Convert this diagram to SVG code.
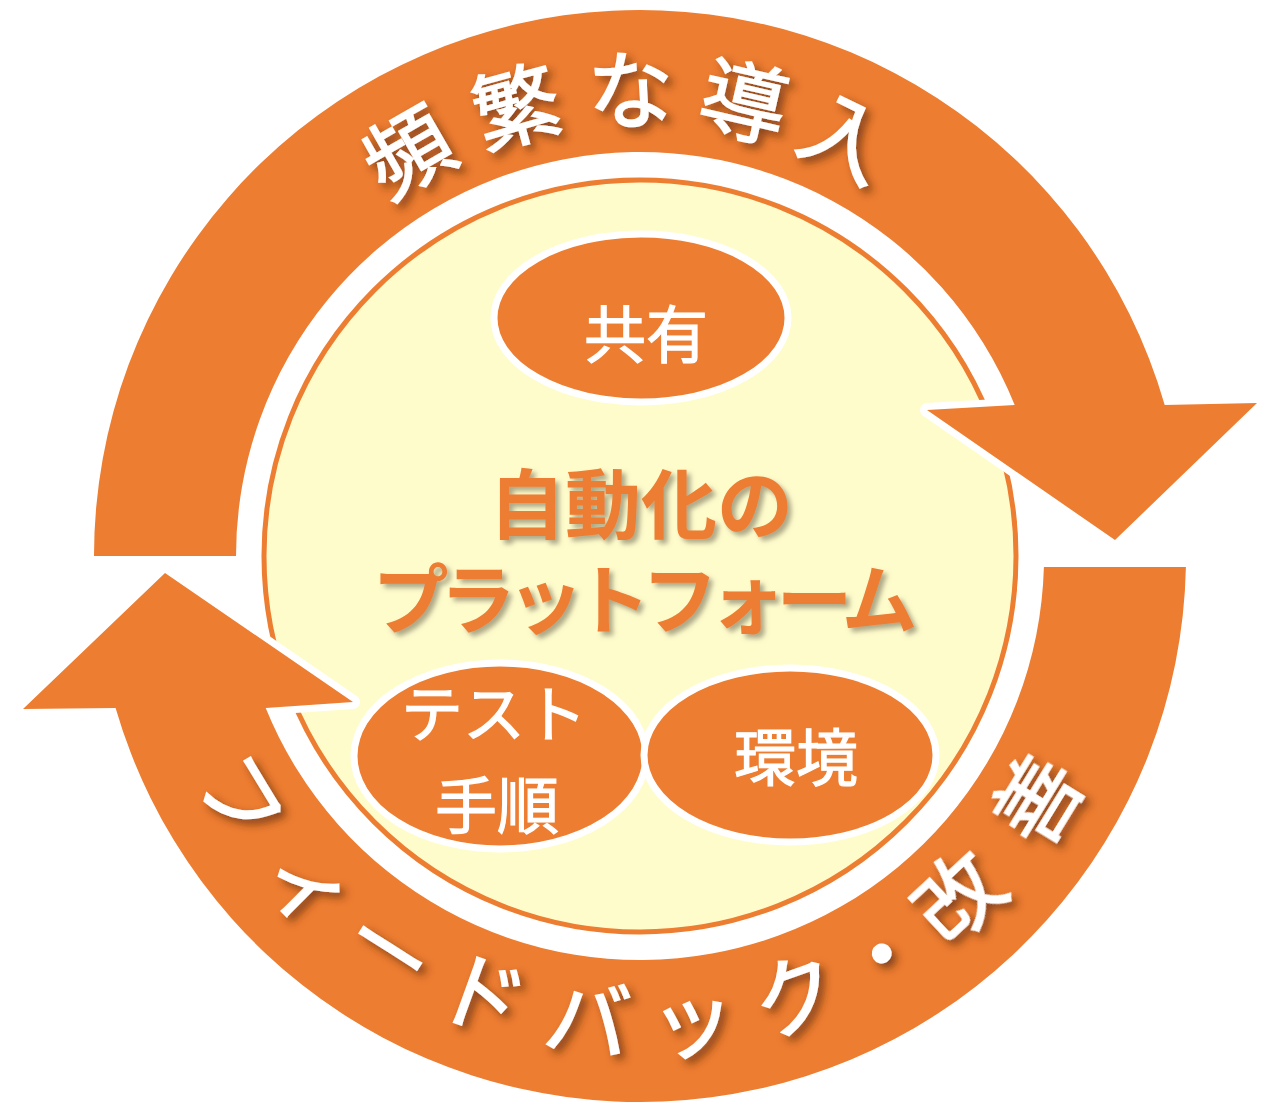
<svg xmlns="http://www.w3.org/2000/svg" width="1280" height="1114" viewBox="0 0 1280 1114">
<defs>
<filter id="ringShadow" x="-40%" y="-40%" width="180%" height="180%">
<feDropShadow dx="5" dy="5" stdDeviation="4" flood-color="#5a2a08" flood-opacity="0.7"/>
</filter>
<filter id="titleShadow" x="-20%" y="-30%" width="140%" height="160%">
<feDropShadow dx="4" dy="4" stdDeviation="2.5" flood-color="#6b6550" flood-opacity="0.55"/>
</filter>
</defs>
<style>
.arrow{fill:#ED7D31;stroke:#fff;stroke-width:14;paint-order:stroke;stroke-linejoin:round}
.node{fill:#ED7D31;stroke:#fff;stroke-width:7}
.ring{font-family:"Noto Sans CJK JP",sans-serif;font-size:86px;fill:#fff;stroke:#fff;stroke-width:1.6;text-anchor:middle}
.lbl{font-family:"Noto Sans CJK JP",sans-serif;font-size:62px;fill:#fff;stroke:#fff;stroke-width:1.2;text-anchor:middle}
.title{font-family:"Noto Sans CJK JP",sans-serif;font-size:76px;font-weight:bold;fill:#ED7D31;text-anchor:middle}
</style>
<rect width="1280" height="1114" fill="#fff"/>
<g id="platform">
<circle cx="640" cy="556" r="376" fill="#FFFCCC" stroke="#ED7D31" stroke-width="5"/>
</g>
<g id="connectors">
<path id="arrow-deploy" class="arrow" d="M94,556 A546,546 0 0 1 1164.7,405 L1257,403 L1115,540 L927,410 L1014.7,405 A404,404 0 0 0 236,556 Z"/>
<path id="arrow-feedback" class="arrow" d="M1185.9,567 A546,546 0 0 1 115.6,708 L23,709 L165,573 L353,702 L265.7,708 A404,404 0 0 0 1043.9,567 Z"/>
</g>
<g id="ring-label-top" filter="url(#ringShadow)">
<text class="ring" x="640" y="122" transform="rotate(-29.9 640 556)">頻</text>
<text class="ring" x="640" y="122" transform="rotate(-15.4 640 556)">繁</text>
<text class="ring" x="640" y="122" transform="rotate(-1.2 640 556)">な</text>
<text class="ring" x="640" y="122" transform="rotate(12.9 640 556)">導</text>
<text class="ring" x="640" y="122" transform="rotate(26.2 640 556)">入</text>
</g>
<g id="ring-label-bottom" filter="url(#ringShadow)">
<text class="ring" x="640" y="1054" transform="rotate(58.7 640 556)">フ</text>
<text class="ring" x="640" y="1054" transform="rotate(45 640 556)">ィ</text>
<text class="ring" x="640" y="1054" transform="rotate(32.5 640 556)">ー</text>
<text class="ring" x="640" y="1054" transform="rotate(19.8 640 556)">ド</text>
<text class="ring" x="640" y="1054" transform="rotate(6.5 640 556)">バ</text>
<text class="ring" x="640" y="1054" transform="rotate(-6.5 640 556)">ッ</text>
<text class="ring" x="640" y="1054" transform="rotate(-19.5 640 556)">ク</text>
<text class="ring" x="640" y="1054" transform="rotate(-31.3 640 556)">・</text>
<text class="ring" x="640" y="1054" transform="rotate(-43 640 556)">改</text>
<text class="ring" x="640" y="1054" transform="rotate(-58.5 640 556)">善</text>
</g>
<g id="platform-title" filter="url(#titleShadow)">
<text class="title" x="641" y="533">自動化の</text>
<text class="title" x="645" y="628" textLength="545" lengthAdjust="spacing">プラットフォーム</text>
</g>
<g id="node-share">
<ellipse class="node" cx="641" cy="318" rx="147" ry="84"/>
<text class="lbl" x="646" y="358">共有</text>
</g>
<g id="node-test">
<ellipse class="node" cx="500" cy="756" rx="146" ry="93"/>
<text class="lbl" x="494" y="737">テスト</text>
<text class="lbl" x="497" y="829">手順</text>
</g>
<g id="node-env">
<ellipse class="node" cx="790" cy="755" rx="146" ry="87"/>
<text class="lbl" x="796" y="781">環境</text>
</g>
</svg>
